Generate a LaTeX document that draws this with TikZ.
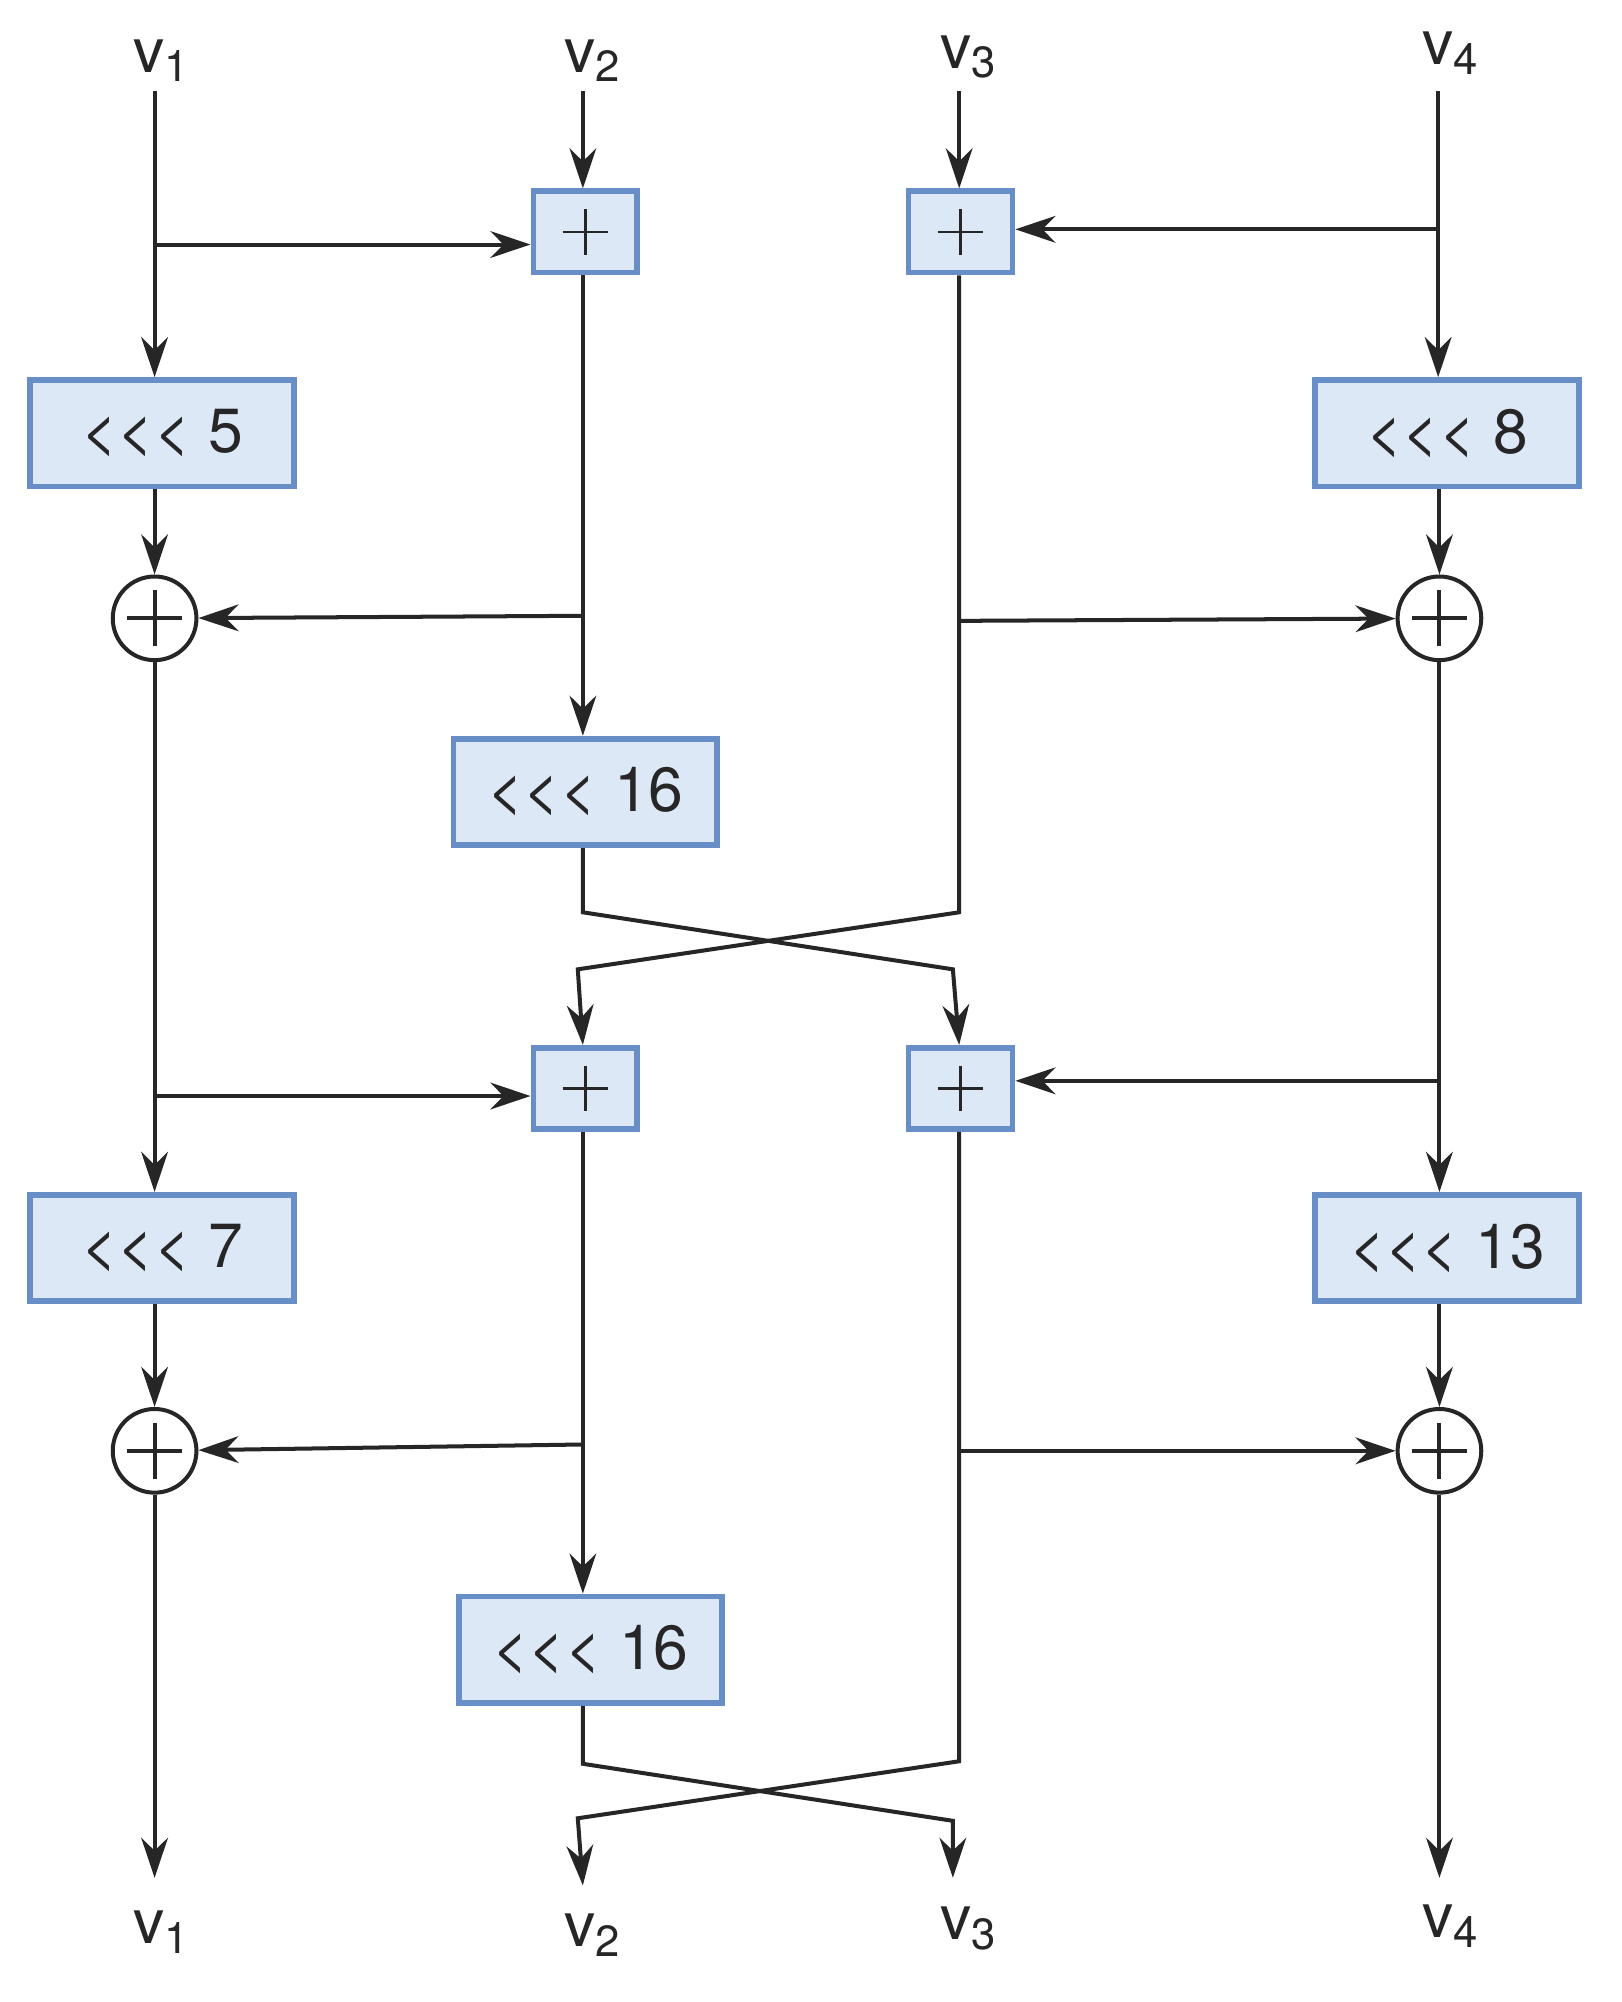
\documentclass[tikz,border=0pt]{standalone}
\usepackage{fontspec}
\setmainfont{TeX Gyre Heros}
\usetikzlibrary{positioning,calc,arrows.meta}
\definecolor{boxfill}{RGB}{220,232,246}
\definecolor{boxline}{RGB}{104,142,200}
\newcommand{\rotl}{<{}<{}<}

\begin{document}
\begin{tikzpicture}[x=0.01cm,y=-0.01cm,
  line width=0.9pt, color={black!85},
  every node/.style={font=\fontsize{14}{16}\selectfont},
  rot/.style={draw=boxline,fill=boxfill,line width=1.3pt,minimum width=2.08cm,minimum height=0.84cm,inner sep=0pt},
  add/.style={draw=boxline,fill=boxfill,line width=1.3pt,minimum width=0.82cm,minimum height=0.64cm,inner sep=0pt,
    path picture={\draw[black!85,line width=0.6pt] ($(path picture bounding box.center)+(-18,0)$) -- ++(36,0)
      ($(path picture bounding box.center)+(0,-18)$) -- ++(0,36);}},
  xor/.style={draw,circle,fill=white,minimum size=0.66cm,inner sep=0pt,
    path picture={\draw ($(path picture bounding box.center)+(-22,0)$) -- ++(44,0)
      ($(path picture bounding box.center)+(0,-22)$) -- ++(0,44);}},
  lab/.style={inner sep=0pt},
  arr/.style={-{Stealth[length=9pt,width=6pt]}}
]
\useasboundingbox (0,0) rectangle (1280,1580);
% inputs and outputs
\node[lab] (i1) at (128,48) {v\textsubscript{1}};
\node[lab] (i2) at (468,48) {v\textsubscript{2}};
\node[lab] (i3) at (765,45) {v\textsubscript{3}};
\node[lab] (i4) at (1145,42) {v\textsubscript{4}};
\node[lab] (o1) at (128,1525) {v\textsubscript{1}};
\node[lab] (o2) at (468,1527) {v\textsubscript{2}};
\node[lab] (o3) at (765,1522) {v\textsubscript{3}};
\node[lab] (o4) at (1145,1520) {v\textsubscript{4}};
% first half round
\node[add] (a2) at (462,183) {};
\node[add] (a3) at (758,183) {};
\node[rot] (r5) at (128,342) {\rotl\ 5};
\node[rot] (r8) at (1142,342) {\rotl\ 8};
\node[xor] (x1) at (122,488) {};
\node[xor] (x4) at (1136,488) {};
\node[rot] (r16a) at (462,625) {\rotl\ 16};
% second half round
\node[add] (b2) at (462,859) {};
\node[add] (b3) at (758,859) {};
\node[rot] (r7) at (128,985) {\rotl\ 7};
\node[rot] (r13) at (1142,985) {\rotl\ 13};
\node[xor] (y1) at (122,1145) {};
\node[xor] (y4) at (1136,1145) {};
\node[rot] (r16b) at (466,1302) {\rotl\ 16};
% branch points
\coordinate (p1) at (122,193);
\coordinate (p4) at (1135,181);
\coordinate (q2) at (460,486);
\coordinate (q3) at (757,490);
\coordinate (s1) at (122,865);
\coordinate (s4) at (1135,853);
\coordinate (t2) at (460,1140);
\coordinate (t3) at (757,1145);

\draw[arr] (122,72) -- (r5.north -| 122,0);
\draw[arr] (460,72) -- (a2.north -| 460,0);
\draw[arr] (757,72) -- (a3.north -| 757,0);
\draw[arr] (1135,72) -- (r8.north -| 1135,0);
\draw[arr] (p1) -- (a2.west |- p1);
\draw[arr] (p4) -- (a3.east |- p4);
\draw[arr] (r5.south -| x1) -- (x1);
\draw[arr] (r8.south -| x4) -- (x4);
\draw[arr] (a2.south -| 460,0) -- (r16a.north -| 460,0);
\draw[arr] (q2) -- (x1);
\draw[arr] (q3) -- (x4);
\draw[arr] (r16a.south -| 460,0) -- (460,720) -- (752,765) -- (b3.north -| 757,0);
\draw[arr] (a3.south -| 757,0) -- (757,720) -- (456,765) -- (b2.north -| 460,0);
\draw[arr] (x1) -- (r7.north -| x1);
\draw[arr] (x4) -- (r13.north -| x4);
\draw[arr] (s1) -- (b2.west |- s1);
\draw[arr] (s4) -- (b3.east |- s4);
\draw[arr] (r7.south -| y1) -- (y1);
\draw[arr] (r13.south -| y4) -- (y4);
\draw[arr] (b2.south -| 460,0) -- (r16b.north -| 460,0);
\draw[arr] (t2) -- (y1);
\draw[arr] (t3) -- (y4);
\draw[arr] (r16b.south -| 460,0) -- (460,1392) -- (752,1437) -- (752,1482);
\draw[arr] (b3.south -| 757,0) -- (757,1390) -- (456,1435) -- (460,1488);
\draw[arr] (y1) -- (122,1482);
\draw[arr] (y4) -- (1136,1482);
\end{tikzpicture}
\end{document}
